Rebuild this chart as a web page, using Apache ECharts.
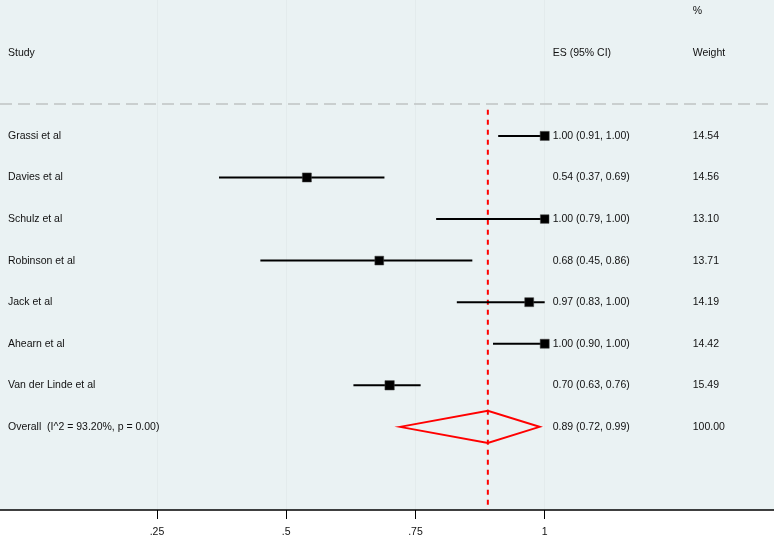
<!DOCTYPE html>
<html>
<head>
<meta charset="utf-8">
<script src="https://cdn.jsdelivr.net/npm/echarts@6/dist/echarts.min.js"></script>
<style>
    html, body { margin: 0; padding: 0; background: #ffffff; }
    #chart { width: 774px; height: 543px; }
</style>
</head>
<body>
<div id="chart"></div>
<script>
// study rows
const studies = ['Grassi et al', 'Davies et al', 'Schulz et al', 'Robinson et al', 'Jack et al', 'Ahearn et al', 'Van der Linde et al']
const esValues = [1.00, 0.54, 1.00, 0.68, 0.97, 1.00, 0.70]
const ciLow    = [0.91, 0.37, 0.79, 0.45, 0.83, 0.90, 0.63]
const ciHigh   = [1.00, 0.69, 1.00, 0.86, 1.00, 1.00, 0.76]
const weights  = [14.54, 14.56, 13.10, 13.71, 14.19, 14.42, 15.49]

// pooled estimate
const overallLabel = 'Overall  (I^2 = 93.20%, p = 0.00)'
const overallEs     = [0.89]
const overallLow    = [0.72]
const overallHigh   = [0.99]
const overallWeight = [100.00]

// axis ticks
const xTicks      = [0.25, 0.5, 0.75, 1]
const xTickLabels = ['.25', '.5', '.75', '1']

const FONT = "'Liberation Sans', Arial, sans-serif"
const TEXT_COLOR = '#111111'

const fmt = v => v.toFixed(2)
const esText = i => fmt(esValues[i]) + ' (' + fmt(ciLow[i]) + ', ' + fmt(ciHigh[i]) + ')'

// one entry per text row: [row, study, es, weight]
const textRows = [
    [-3, '', '', '%'],
    [-2, 'Study', 'ES (95% CI)', 'Weight'],
]
studies.forEach((s, i) => textRows.push([i, s, esText(i), fmt(weights[i])]))
textRows.push([studies.length, overallLabel,
    fmt(overallEs[0]) + ' (' + fmt(overallLow[0]) + ', ' + fmt(overallHigh[0]) + ')',
    fmt(overallWeight[0])])

const meanW = weights.reduce((a, b) => a + b, 0) / weights.length

const chart = echarts.init(document.getElementById('chart'))

function txt(x, y, s) {
    return {
        type: 'text',
        style: { x, y, text: s, fill: TEXT_COLOR, font: '10.5px ' + FONT, textVerticalAlign: 'middle', textAlign: 'left' },
    }
}

chart.setOption({
    animation: false,
    grid: {
        left: 0, right: 0, top: 0, bottom: 33,
        show: true, backgroundColor: '#eaf2f3', borderWidth: 0,
    },
    xAxis: {
        type: 'value',
        min: -0.0536,
        max: 1.4435,
        axisLine: { show: true, onZero: false, lineStyle: { color: '#000', width: 1.5 } },
        axisTick: { show: true, customValues: xTicks, length: 9, lineStyle: { color: '#000', width: 1 } },
        axisLabel: {
            customValues: xTicks,
            margin: 17,
            color: TEXT_COLOR,
            fontSize: 10.5,
            fontFamily: FONT,
            formatter: v => xTickLabels[xTicks.indexOf(v)] ?? '',
        },
        splitLine: { show: true, lineStyle: { color: '#e3ebec', width: 1 } },
    },
    yAxis: {
        type: 'value',
        inverse: true,
        min: -3.27,
        max: 9,
        show: false,
    },
    series: [
        {
            // header divider + reference line at pooled ES
            type: 'line',
            data: [[overallEs[0], -0.63], [overallEs[0], 9]],
            symbol: 'none',
            lineStyle: { color: '#ff0000', width: 2, type: [5, 5] },
            z: 3,
            markLine: {
                silent: true,
                symbol: ['none', 'none'],
                label: { show: false },
                lineStyle: { color: '#c0c3c4', width: 1.5, type: [12, 6] },
                data: [{ yAxis: -0.77 }],
            },
        },
        {
            // study CIs and boxes
            type: 'custom',
            data: esValues.map((v, i) => [v, ciLow[i], ciHigh[i], weights[i], i]),
            encode: { x: 0, y: 4 },
            z: 4,
            renderItem(params, api) {
                const row = api.value(4)
                const p = api.coord([api.value(0), row])
                const l = api.coord([api.value(1), row])
                const h = api.coord([api.value(2), row])
                const s = 9 * Math.sqrt(api.value(3) / meanW)
                return {
                    type: 'group',
                    children: [
                        { type: 'line', shape: { x1: l[0], y1: l[1], x2: h[0], y2: h[1] }, style: { stroke: '#000', lineWidth: 2 } },
                        { type: 'rect', shape: { x: p[0] - s / 2, y: p[1] - s / 2, width: s, height: s }, style: { fill: '#000', stroke: '#444', lineWidth: 0.5 } },
                    ],
                }
            },
        },
        {
            // pooled diamond
            type: 'custom',
            data: overallEs.map((v, i) => [v, overallLow[i], overallHigh[i], studies.length]),
            encode: { x: 0, y: 3 },
            z: 4,
            renderItem(params, api) {
                const row = api.value(3)
                const c = api.coord([api.value(0), row])
                const l = api.coord([api.value(1), row])
                const h = api.coord([api.value(2), row])
                const hh = 16
                return {
                    type: 'polygon',
                    shape: { points: [[l[0], l[1]], [c[0], c[1] - hh], [h[0], h[1]], [c[0], c[1] + hh]] },
                    style: { fill: 'none', stroke: '#ff0000', lineWidth: 2 },
                }
            },
        },
        {
            // text columns: study | ES (95% CI) | weight
            type: 'custom',
            data: textRows.map(r => [1, r[0]]),
            encode: { x: 0, y: 1 },
            z: 5,
            renderItem(params, api) {
                const r = textRows[params.dataIndex]
                const base = api.coord([1, r[0]])
                return {
                    type: 'group',
                    children: [
                        txt(8, base[1], r[1]),
                        txt(base[0] + 8, base[1], r[2]),
                        txt(base[0] + 148, base[1], r[3]),
                    ],
                }
            },
        },
    ],
})
</script>
</body>
</html>
